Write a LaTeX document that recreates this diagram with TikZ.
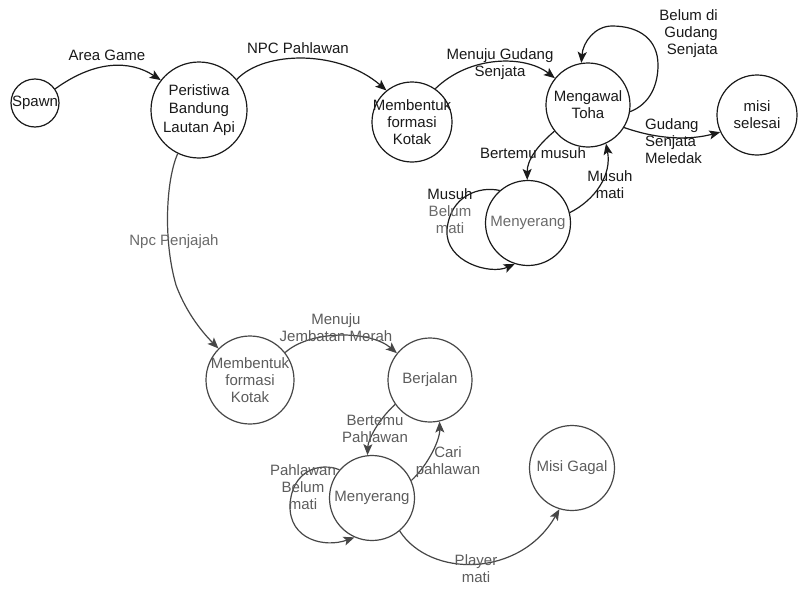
\documentclass[tikz,border=0pt]{standalone}
\usepackage{fontspec}
\setmainfont{Liberation Sans}
\usetikzlibrary{arrows.meta}
\definecolor{ink}{HTML}{1A1A1A}
\definecolor{lowink}{HTML}{474747}
\definecolor{lowtxt}{HTML}{5C5C5C}
\definecolor{midtxt}{HTML}{6A6A6A}
\tikzset{
  circ/.style={circle,draw=ink,line width=1.2pt,inner sep=0pt,minimum size=#1},
  lcirc/.style={circle,draw=lowink,line width=1.2pt,inner sep=0pt,minimum size=#1},
  txt/.style={inner sep=0pt,align=center,text=ink,font=\fontsize{15}{17}\selectfont},
  ltxt/.style={txt,text=lowtxt},
  edge/.style={draw=ink,line width=1.2pt,-{Stealth[length=11pt,width=9pt,inset=2.5pt]}},
  ledge/.style={edge,draw=lowink}
}
\begin{document}
\begin{tikzpicture}[x=1pt,y=-1pt]
\fill[white] (0,0) rectangle (798,589);
\useasboundingbox (0,0) rectangle (798,589);

% states
\node[circ=48pt] (sp) at (35,103) {};
\node[txt] at (sp) {Spawn};
\node[circ=96pt] (pe) at (199,110) {};
\node[txt,font=\fontsize{15}{18.5}\selectfont] at (pe) {Peristiwa\\Bandung\\Lautan Api};
\node[circ=80pt] (mt) at (412,122) {};
\node[txt] at (mt) {Membentuk\\formasi\\Kotak};
\node[circ=84pt] (mg) at (588,105) {};
\node[txt] at (mg) {Mengawal\\Toha};
\node[circ=80pt] (ms) at (757,115) {};
\node[txt] at (ms) {misi\\selesai};
\node[circ=85pt] (my) at (528,223) {};
\node[txt,text=midtxt] at (my) {Menyerang};

\node[lcirc=88pt] (mb) at (250,380) {};
\node[ltxt] at (mb) {Membentuk\\formasi\\Kotak};
\node[lcirc=84pt] (bj) at (430,380) {};
\node[ltxt] at (bj) {Berjalan};
\node[lcirc=85pt] (my2) at (372,498) {};
\node[ltxt] at (my2) {Menyerang};
\node[lcirc=85pt] (mgg) at (572,468) {};
\node[ltxt] at (mgg) {Misi Gagal};

% top connectors
\draw[edge] (sp.35) .. controls (95,60) and (130,60) .. (pe.142);
\draw[edge] (pe.39) .. controls (265,50) and (340,50) .. (mt.129);
\draw[edge] (mt.55) .. controls (470,55) and (525,55) .. (mg.141);
\draw[edge] (mg.-9) .. controls (650,104) and (658,85) .. (658,65)
   .. controls (658,40) and (640,26) .. (612,26)
   .. controls (595,26) and (583,42) .. (mg.99);
\draw[edge] (mg.-32) .. controls (660,140) and (690,140) .. (ms.205);
\draw[edge] (mg.218) .. controls (538,145) and (527,160) .. (my.91);
\draw[edge] (my.14) .. controls (595,200) and (612,175) .. (mg.-65);
\draw[edge] (my.131) .. controls (480,186) and (450,195) .. (447,230)
   .. controls (445,262) and (490,275) .. (my.252);
\draw[ledge] (pe.244) .. controls (166,180) and (163,240) .. (176,285)
   .. controls (187,315) and (205,335) .. (mb.135);

% bottom connectors
\draw[ledge] (mb.38) .. controls (310,330) and (370,330) .. (bj.141);
\draw[ledge] (bj.215) .. controls (378,420) and (368,440) .. (my2.96);
\draw[ledge] (my2.24) .. controls (428,465) and (440,440) .. (bj.-77);
\draw[ledge] (my2.139) .. controls (320,462) and (292,470) .. (290,505)
   .. controls (289,540) and (325,548) .. (my2.246);
\draw[ledge] (my2.-50) .. controls (430,578) and (520,578) .. (mgg.253);

% labels
\node[txt] (l1) at (107,55) {Area Game};
\node[txt] (l2) at (298,48) {NPC Pahlawan};
\node[txt] (l3) at (500,64) {Menuju Gudang\\Senjata};
\node[txt,align=right,anchor=east] (l4) at (718,34) {Belum di\\Gudang\\Senjata};
\node[txt,align=left,anchor=west] (l5) at (645,141) {Gudang\\Senjata\\Meledak};
\node[txt] (l6) at (533,153) {Bertemu musuh};
\node[txt] (l7) at (610,185) {Musuh\\mati};
\node[txt] (l8) at (450,211) {Musuh\\\textcolor{midtxt}{Belum}\\\textcolor{midtxt}{mati}};
\node[txt,text=midtxt] (l9) at (174,242) {Npc Penjajah};
\node[ltxt] (l10) at (336,328) {Menuju\\Jembatan Merah};
\node[ltxt] (l11) at (375,429) {Bertemu\\Pahlawan};
\node[ltxt] (l12) at (448,462) {Cari\\pahlawan};
\node[ltxt] (l13) at (303,487) {Pahlawan\\Belum\\mati};
\node[ltxt] (l14) at (476,569) {Player\\mati};
\end{tikzpicture}
\end{document}
